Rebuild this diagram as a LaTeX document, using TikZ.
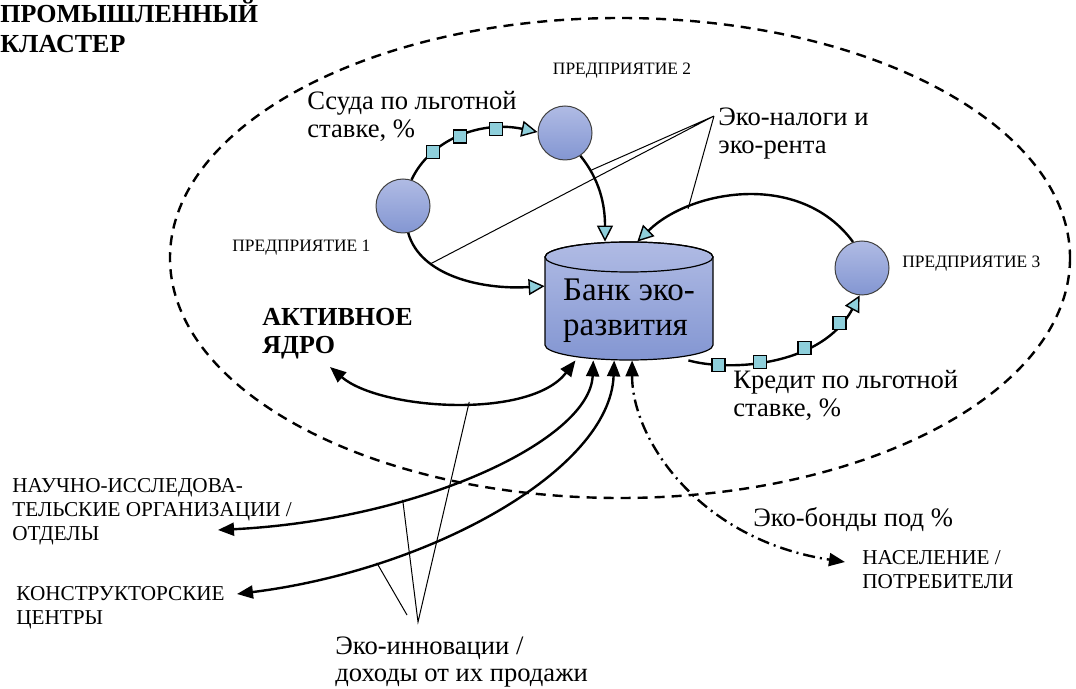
\documentclass[tikz,border=0pt]{standalone}
\usepackage{fontspec}
\setmainfont{Liberation Serif}
\usetikzlibrary{arrows.meta}
\definecolor{entTop}{HTML}{B0BBE4}
\definecolor{entBot}{HTML}{8396D2}
\definecolor{tipc}{HTML}{8ECFDB}
\tikzset{
  ent/.style={circle,draw=black!75,line width=0.5pt,minimum size=27pt,inner sep=0pt,top color=entTop,bottom color=entBot},
  sq/.style={draw,line width=0.7pt,fill=tipc,minimum size=6.5pt,inner sep=0pt},
  flow/.style={line width=1.2pt,-{Triangle[fill=tipc,line width=0.7pt,length=8pt,width=8pt]}},
  link/.style={line width=1.2pt,{Triangle[length=8pt,width=6.5pt]}-{Triangle[length=8pt,width=6.5pt]}},
  txt/.style={font=\fontsize{13.3}{13.6}\selectfont,align=left,anchor=west,inner sep=0pt},
  capt/.style={font=\fontsize{10.6}{12}\selectfont,align=left,anchor=west,inner sep=0pt},
  ent label/.style={capt,font=\fontsize{8.7}{10}\selectfont},
  boldt/.style={txt,font=\fontsize{13}{14}\selectfont\bfseries},
  thin/.style={line width=0.5pt}
}
\begin{document}
\begin{tikzpicture}[x=0.5pt,y=-0.5pt]
	\useasboundingbox (0,0) rectangle (1076,689);
	\draw[line width=1.2pt,dash pattern=on 5pt off 3.5pt] (620,258) ellipse [x radius=450,y radius=240]; % кластер
	\node[ent] (e1) at (403,206) {};
	\node[ent] (e2) at (565,133) {};
	\node[ent] (e3) at (862,268) {};
	% банк: цилиндр
	\shade[top color=entTop,bottom color=entBot,draw,line width=0.6pt] (545,257) -- (545,345) arc[start angle=180,end angle=0,x radius=84,y radius=15] -- (713,257) arc[start angle=0,end angle=-180,x radius=84,y radius=15] -- cycle;
	\draw[line width=0.6pt] (629,257) ellipse [x radius=84,y radius=15];
	\node[minimum width=84pt,minimum height=59pt,inner sep=0pt,
		label={[name=bankTxt,font=\fontsize{16.5}{17.5}\selectfont,align=left,yshift=-5pt]center:Банк эко-\\развития}] (bank) at (629,301) {};
	\node[ent label,anchor=center] (p2) at (622,71) {ПРЕДПРИЯТИЕ 2};
	\node[ent label] (p1) at (232,248) {ПРЕДПРИЯТИЕ 1};
	\node[ent label] (p3) at (902,264) {ПРЕДПРИЯТИЕ 3};
	\node[txt] (loan) at (307,116.5) {Ссуда по льготной\\ставке, \%};
	\node[txt] (tax) at (718,133.5) {Эко-налоги и\\эко-рента};
	\node[boldt] (core) at (262,333.5) {АКТИВНОЕ\\ЯДРО};
	\node[boldt,font=\fontsize{13}{15}\selectfont\bfseries] (cluster) at (0,27) {ПРОМЫШЛЕННЫЙ\\КЛАСТЕР};
	\node[txt] (credit) at (733,395.5) {Кредит по льготной\\ставке, \%};
	\node[txt] (bonds) at (753,520) {Эко-бонды под \%};
	\node[capt] (pop) at (862,569.5) {НАСЕЛЕНИЕ /\\ПОТРЕБИТЕЛИ};
	\node[capt] (sci) at (12,511.5) {НАУЧНО-ИССЛЕДОВА-\\ТЕЛЬСКИЕ ОРГАНИЗАЦИИ /\\ОТДЕЛЫ};
	\node[capt] (des) at (16,607.5) {КОНСТРУКТОРСКИЕ\\ЦЕНТРЫ};
	\node[txt] (innov) at (335,662) {Эко-инновации /\\доходы от их продажи};
	\coordinate (coreIn) at (330,367);
	\coordinate (sciIn) at (218,530);
	\coordinate (desIn) at (237,594);
	\coordinate (popIn) at (845,562);
	\coordinate (taxPt) at (714,116);
	\coordinate (innA) at (418,622);
	\coordinate (innB) at (407,615);
	\draw[flow] (e1.72) .. controls (430,140) and (480,120) .. (e2.178) node[sq,pos=0.27]{} node[sq,pos=0.5]{} node[sq,pos=0.75]{}; % ссуда
	\draw[flow] (e2.-56) .. controls (600,180) and (605,205) .. (bank.112) coordinate[pos=0.2] (t2);
	\draw[flow] (e1.-79) .. controls (420,275) and (480,290) .. (bank.170) coordinate[pos=0.3] (t1);
	\draw[flow] (e3.109) .. controls (800,170) and (690,190) .. (bank.82) coordinate[pos=0.74] (t3);
	\draw[flow] (bank.-45) .. controls (730,372) and (822,366) .. (e3.-95) node[sq,pos=0.2]{} node[sq,pos=0.42]{} node[sq,pos=0.65]{} node[sq,pos=0.85]{}; % кредит
	\draw[thin] (t1) -- (taxPt) -- (t2) (taxPt) -- (t3);
	\draw[link] (coreIn) .. controls (380,410) and (530,420) .. (bank.-132) coordinate[pos=0.55] (c1);
	\draw[link] (sciIn) .. controls (420,520) and (590,440) .. (bank.-121) coordinate[pos=0.33] (c2);
	\draw[link] (desIn) .. controls (430,570) and (610,470) .. (bank.-104) coordinate[pos=0.25] (c3);
	\draw[link,dash pattern=on 6pt off 2.5pt on 1pt off 2.5pt] (bank.-87) .. controls (632,440) and (700,540) .. (popIn); % эко-бонды
	\draw[thin] (c1) -- (innA) -- (c2) (c3) -- (innB);
\end{tikzpicture}
\end{document}
